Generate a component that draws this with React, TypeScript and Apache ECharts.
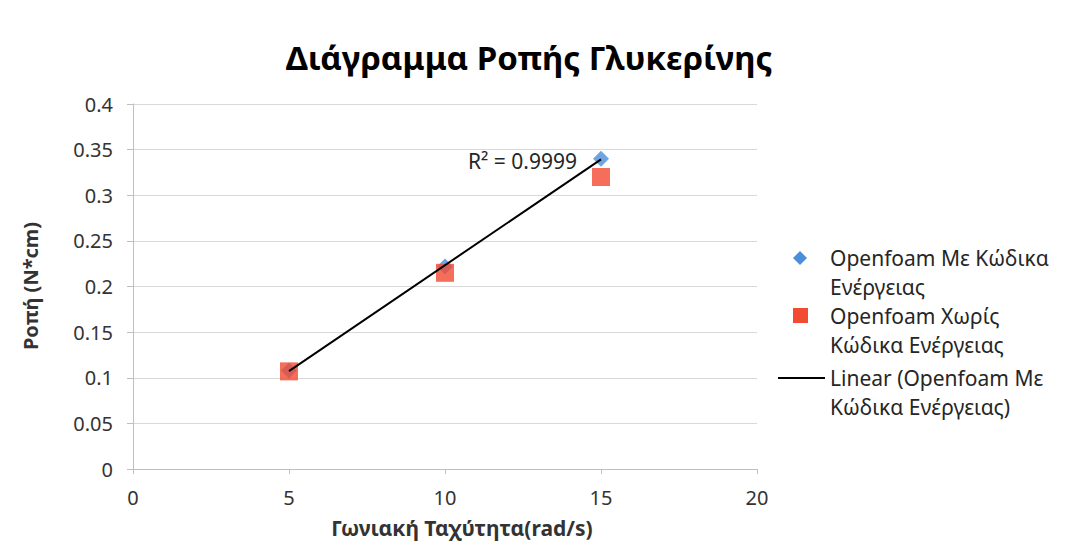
import React, { useEffect, useRef } from "react";
import * as echarts from "echarts";

const xValues = [5, 10, 15];
const withEnergy = [0.108, 0.222, 0.34];
const withoutEnergy = [0.107, 0.215, 0.32];
const xTicks = [0, 5, 10, 15, 20];
const yTicks = [0, 0.05, 0.1, 0.15, 0.2, 0.25, 0.3, 0.35, 0.4];

const titleText = "Διάγραμμα Ροπής Γλυκερίνης";
const xName = "Γωνιακή Ταχύτητα(rad/s)";
const yName = "Ροπή (N*cm)";
const legendLines1 = ["Openfoam Με Κώδικα", "Ενέργειας"];
const legendLines2 = ["Openfoam Χωρίς", "Κώδικα Ενέργειας"];
const legendLines3 = ["Linear (Openfoam Με", "Κώδικα Ενέργειας)"];
const r2Text = "R² = 0.9999";

const BLUE = "#4A8FD8";
const RED = "#F24A33";
const FONT = "'Noto Sans', 'Open Sans', sans-serif";

function linearFit(xs: number[], ys: number[]) {
  const n = xs.length;
  const mx = xs.reduce((a, b) => a + b, 0) / n;
  const my = ys.reduce((a, b) => a + b, 0) / n;
  let sxy = 0, sxx = 0;
  for (let i = 0; i < n; i++) {
    sxy += (xs[i] - mx) * (ys[i] - my);
    sxx += (xs[i] - mx) * (xs[i] - mx);
  }
  const slope = sxy / sxx;
  return { slope, intercept: my - slope * mx };
}

export default function App() {
  const ref = useRef<HTMLDivElement>(null);
  useEffect(() => {
    if (!ref.current) return;
    const chart = echarts.init(ref.current, null, { renderer: "svg" });
    const fit = linearFit(xValues, withEnergy);
    const x0 = xValues[0];
    const x1 = xValues[xValues.length - 1];
    const trend = [
      [x0, fit.intercept + fit.slope * x0],
      [x1, fit.intercept + fit.slope * x1],
    ];
    const legendText = (lines: string[], y: number) =>
      lines.map((t, i) => ({
        type: "text",
        x: 830,
        y: y + i * 29,
        style: {
          text: t,
          font: `21px ${FONT}`,
          fill: "#262626",
          align: "left",
          verticalAlign: "middle",
        },
      }));
    chart.setOption({
      animation: false,
      backgroundColor: "#ffffff",
      grid: { left: 133, right: 310, top: 104, bottom: 84 },
      xAxis: {
        type: "value",
        min: xTicks[0],
        max: xTicks[xTicks.length - 1],
        interval: 5,
        splitLine: { show: false },
        axisLine: { show: true, lineStyle: { color: "#BFBFBF" } },
        axisTick: { show: true, length: 5, lineStyle: { color: "#BFBFBF" } },
        axisLabel: { fontSize: 20, color: "#333", fontFamily: FONT, margin: 18 },
      },
      yAxis: {
        type: "value",
        min: yTicks[0],
        max: yTicks[yTicks.length - 1],
        interval: 0.05,
        splitLine: { show: true, lineStyle: { color: "#D9D9D9" } },
        axisLine: { show: true, lineStyle: { color: "#BFBFBF" } },
        axisTick: { show: true, length: 6, lineStyle: { color: "#BFBFBF" } },
        axisLabel: { fontSize: 20, color: "#333", fontFamily: FONT, margin: 20 },
      },
      series: [
        {
          type: "scatter",
          name: legendLines1.join(" "),
          symbol: "diamond",
          symbolSize: [16, 16],
          itemStyle: { color: BLUE },
          data: xValues.map((x, i) => [x, withEnergy[i]]),
          z: 2,
        },
        {
          type: "scatter",
          name: legendLines2.join(" "),
          symbol: "rect",
          symbolSize: [18, 18],
          itemStyle: { color: RED },
          data: xValues.map((x, i) => [x, withoutEnergy[i]]),
          z: 3,
        },
        {
          type: "line",
          name: legendLines3.join(" "),
          showSymbol: false,
          lineStyle: { color: "#000", width: 2 },
          data: trend,
          z: 4,
        },
      ],
      graphic: [
        {
          type: "text",
          x: 529,
          y: 57,
          style: {
            text: titleText,
            font: `bold 33px ${FONT}`,
            fill: "#000",
            align: "center",
            verticalAlign: "middle",
          },
        },
        {
          type: "text",
          x: 462,
          y: 528,
          style: {
            text: xName,
            font: `bold 21px ${FONT}`,
            fill: "#333",
            align: "center",
            verticalAlign: "middle",
          },
        },
        {
          type: "text",
          x: 30,
          y: 286,
          rotation: Math.PI / 2,
          style: {
            text: yName,
            font: `bold 20px ${FONT}`,
            fill: "#333",
            align: "center",
            verticalAlign: "middle",
          },
        },
        {
          type: "text",
          x: 577,
          y: 161,
          style: {
            text: r2Text,
            font: `21px ${FONT}`,
            fill: "#262626",
            align: "right",
            verticalAlign: "middle",
          },
        },
        {
          type: "polygon",
          shape: { points: [[800, 251], [807, 258], [800, 265], [793, 258]] },
          style: { fill: BLUE },
        },
        {
          type: "rect",
          shape: { x: 793, y: 308, width: 15, height: 15 },
          style: { fill: RED },
        },
        {
          type: "line",
          shape: { x1: 778, y1: 378, x2: 825, y2: 378 },
          style: { stroke: "#000", lineWidth: 2 },
        },
        ...legendText(legendLines1, 258),
        ...legendText(legendLines2, 316),
        ...legendText(legendLines3, 378),
      ],
    });
    return () => chart.dispose();
  }, []);
  return (
    <div
      ref={ref}
      style={{ position: "fixed", left: 0, top: 0, width: 1067, height: 553 }}
    />
  );
}
